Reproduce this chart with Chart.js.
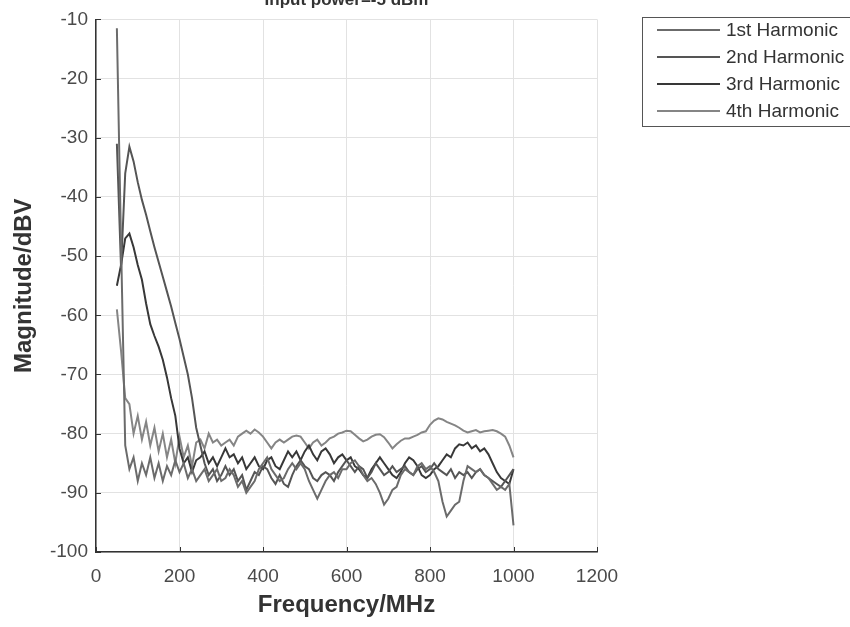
<!DOCTYPE html>
<html>
<head>
<meta charset="utf-8">
<script src="https://cdn.jsdelivr.net/npm/chart.js@4.4.0/dist/chart.umd.min.js"></script>
<style>
html, body { margin: 0; padding: 0; background: #fff; }
#wrap { width: 850px; height: 627px; position: relative; }
</style>
</head>
<body>
<div id="wrap"><canvas id="chart"></canvas></div>
<script>
// frequency points (MHz)
const freq = [
  50, 60, 70, 80, 90, 100, 110, 120, 130, 140, 150, 160, 170, 180, 190, 200, 210, 220, 230, 240,
  250, 260, 270, 280, 290, 300, 310, 320, 330, 340, 350, 360, 370, 380, 390, 400, 410, 420, 430, 440,
  450, 460, 470, 480, 490, 500, 510, 520, 530, 540, 550, 560, 570, 580, 590, 600, 610, 620, 630, 640,
  650, 660, 670, 680, 690, 700, 710, 720, 730, 740, 750, 760, 770, 780, 790, 800, 810, 820, 830, 840,
  850, 860, 870, 880, 890, 900, 910, 920, 930, 940, 950, 960, 970, 980, 990, 1000
];

// magnitude (dBV)
const harm1 = [
  -11.5, -48, -82, -86, -84, -88, -85, -87, -84, -87.5, -85, -88, -85.5, -87, -84.5, -86.5, -85, -87.5, -86, -88,
  -87, -86, -88, -87, -86, -88, -87.5, -86, -87, -89, -88, -90, -89, -88, -86, -85, -84, -86, -87, -88,
  -87.5, -86, -85, -86, -85, -86, -88, -89.5, -91, -89.5, -88, -87, -86.5, -87.5, -86, -86, -85, -84.5, -85.5, -87,
  -88, -87.5, -88.5, -90, -92, -91, -89.5, -89, -87, -86, -86.5, -87, -85.5, -85, -86, -85.5, -86.5, -88, -91.5, -94,
  -93, -92, -91.5, -88, -85.5, -86, -86.5, -86, -87, -87.5, -88.5, -89.5, -89, -89.5, -88.5, -95.5
];
const harm2 = [
  -31, -52, -36, -31.5, -34, -37.5, -40.5, -43, -45.8, -48.5, -51, -53.5, -56, -58.5, -61.3, -64, -67, -70, -74, -79,
  -82, -85, -87, -86, -88, -87, -85.5, -87, -86, -88, -87, -89.5, -88, -86.5, -87, -85.5, -86, -87.5, -88.5, -87,
  -88.5, -89, -87, -85.5, -84.5, -85.5, -86, -87.5, -88, -87, -86.5, -87, -88, -86.5, -85.5, -84.5, -85.5, -86.5, -85.5, -86,
  -87.5, -86.5, -85, -86, -87, -86.5, -85.5, -86.5, -86, -85.5, -86.5, -87, -86, -85.5, -86.5, -86, -85, -86, -86.5, -87,
  -86, -87.5, -86.5, -87, -86.5, -87.5, -86.5, -86, -87, -87.5, -88, -88.5, -89, -88, -87, -86
];
const harm3 = [
  -55, -51.5, -47, -46.2, -48.5, -51.5, -54, -58, -61.5, -63.5, -65.3, -67.5, -70.5, -74, -77, -82.5, -85, -84, -86.5, -84.5,
  -84, -83, -85, -84, -85.5, -84, -82.5, -84, -83.5, -85, -84, -86, -85, -84, -85.5, -86, -84.5, -84, -85.5, -86,
  -84.5, -83, -84, -83, -84.5, -83, -82, -83.5, -84.5, -83, -82.5, -83.5, -85, -84, -83.5, -84.5, -84, -85.5, -86, -87,
  -87.5, -86, -85, -84, -85, -86, -87, -87.5, -86.5, -85, -84, -84.5, -85.5, -87, -87.5, -87, -86, -85.5, -84.5, -83.5,
  -84, -82.5, -81.8, -82, -81.5, -82.5, -82, -83, -82.5, -83.5, -85, -86.5, -87.5, -88, -88.5, -86
];
const harm4 = [
  -59, -66, -74, -75, -80, -77, -81, -78, -82, -79, -83, -80, -84, -81, -85, -80.5, -84, -82, -85.5, -81.5,
  -81, -82.5, -80, -81.5, -81, -82, -81.5, -81, -82, -80.5, -80, -79.5, -80, -79.3, -79.8, -80.5, -81.5, -82.5, -81.5, -81,
  -81.5, -81, -80.5, -80.3, -80.5, -81.5, -82.5, -81.5, -81, -82, -81.5, -80.8, -80.5, -80, -79.8, -79.5, -79.6, -80.2, -80.8, -81.3,
  -81, -80.5, -80.2, -80.1, -80.6, -81.5, -82.5, -81.8, -81.2, -80.8, -80.8, -80.5, -80.2, -79.8, -79.6, -78.5, -77.8, -77.4, -77.6, -78,
  -78.3, -78.6, -79, -79.5, -79.8, -79.6, -79.4, -79.8, -79.6, -79.5, -79.4, -79.6, -80, -80.5, -82, -84
];

const seriesNames = ['1st Harmonic', '2nd Harmonic', '3rd Harmonic', '4th Harmonic'];
const seriesColors = ['#6b6b6b', '#555555', '#383838', '#858585'];
const titleText = 'Input power=-5 dBm';

const allSeries = [harm1, harm2, harm3, harm4];

// title sits half off the top edge like the original figure
const cutTitle = {
  id: 'cutTitle',
  afterDraw(chart) {
    const { ctx, chartArea } = chart;
    ctx.save();
    ctx.font = 'bold 17px "Liberation Sans", Arial, sans-serif';
    ctx.fillStyle = '#333';
    ctx.textAlign = 'center';
    ctx.textBaseline = 'alphabetic';
    ctx.fillText(titleText, (chartArea.left + chartArea.right) / 2, 5);
    ctx.restore();
  }
};

// small inward tick marks on left and bottom axes
const innerTicks = {
  id: 'innerTicks',
  afterDraw(chart) {
    const { ctx, chartArea: a, scales: { x, y } } = chart;
    ctx.save();
    ctx.strokeStyle = '#333';
    ctx.lineWidth = 1;
    ctx.beginPath();
    x.ticks.forEach(t => {
      const px = Math.round(x.getPixelForValue(t.value)) + 0.5;
      ctx.moveTo(px, a.bottom);
      ctx.lineTo(px, a.bottom - 5);
    });
    y.ticks.forEach(t => {
      const py = Math.round(y.getPixelForValue(t.value)) + 0.5;
      ctx.moveTo(a.left, py);
      ctx.lineTo(a.left + 5, py);
    });
    ctx.stroke();
    ctx.restore();
  }
};

// boxed legend at the top right, partly cut by the right edge
const boxLegend = {
  id: 'boxLegend',
  afterDraw(chart) {
    const { ctx } = chart;
    const left = 642, top = 17, bottom = 126;
    ctx.save();
    ctx.fillStyle = '#fff';
    ctx.fillRect(left, top, 230, bottom - top);
    ctx.strokeStyle = '#555';
    ctx.lineWidth = 1;
    ctx.strokeRect(left + 0.5, top + 0.5, 230, bottom - top);
    ctx.font = '19px "Liberation Sans", Arial, sans-serif';
    ctx.textBaseline = 'middle';
    ctx.textAlign = 'left';
    chart.data.datasets.forEach((ds, i) => {
      const yy = 30 + i * 27;
      ctx.strokeStyle = ds.borderColor;
      ctx.lineWidth = 1.8;
      ctx.beginPath();
      ctx.moveTo(657, yy);
      ctx.lineTo(720, yy);
      ctx.stroke();
      ctx.fillStyle = '#333';
      ctx.fillText(ds.label, 726, yy + 1);
    });
    ctx.restore();
  }
};

new Chart(document.getElementById('chart'), {
  type: 'line',
  data: {
    datasets: allSeries.map((vals, i) => ({
      label: seriesNames[i],
      data: freq.map((f, j) => ({ x: f, y: vals[j] })),
      borderColor: seriesColors[i],
      borderWidth: 2,
      pointRadius: 0,
      fill: false,
      tension: 0
    }))
  },
  options: {
    responsive: true,
    maintainAspectRatio: false,
    animation: false,
    layout: { padding: { top: 13, right: 253, left: 0, bottom: 0 } },
    plugins: {
      legend: { display: false },
      title: { display: false },
      tooltip: { enabled: false }
    },
    scales: {
      x: {
        type: 'linear',
        min: 0,
        max: 1200,
        ticks: {
          stepSize: 200,
          color: '#4a4a4a',
          font: { family: '"Liberation Sans", Arial, sans-serif', size: 19 },
          padding: 13,
          callback: v => String(v)
        },
        grid: { color: '#e2e2e2', drawTicks: false },
        border: { color: '#333', width: 1.5 },
        title: {
          display: true,
          text: 'Frequency/MHz',
          color: '#333',
          font: { family: '"Liberation Sans", Arial, sans-serif', size: 24, weight: 'bold' },
          padding: { top: 0, bottom: 7 }
        },
        afterFit(scale) { scale.height = 75; }
      },
      y: {
        min: -100,
        max: -10,
        ticks: {
          stepSize: 10,
          color: '#4a4a4a',
          font: { family: '"Liberation Sans", Arial, sans-serif', size: 19 },
          padding: 8,
          callback: v => String(v)
        },
        grid: { color: '#e2e2e2', drawTicks: false },
        border: { color: '#333', width: 1.5 },
        title: {
          display: true,
          text: 'Magnitude/dBV',
          color: '#333',
          font: { family: '"Liberation Sans", Arial, sans-serif', size: 24, weight: 'bold' },
          padding: { top: 10, bottom: 0 }
        },
        afterFit(scale) { scale.width = 96; }
      }
    }
  },
  plugins: [cutTitle, innerTicks, boxLegend]
});
</script>
</body>
</html>
